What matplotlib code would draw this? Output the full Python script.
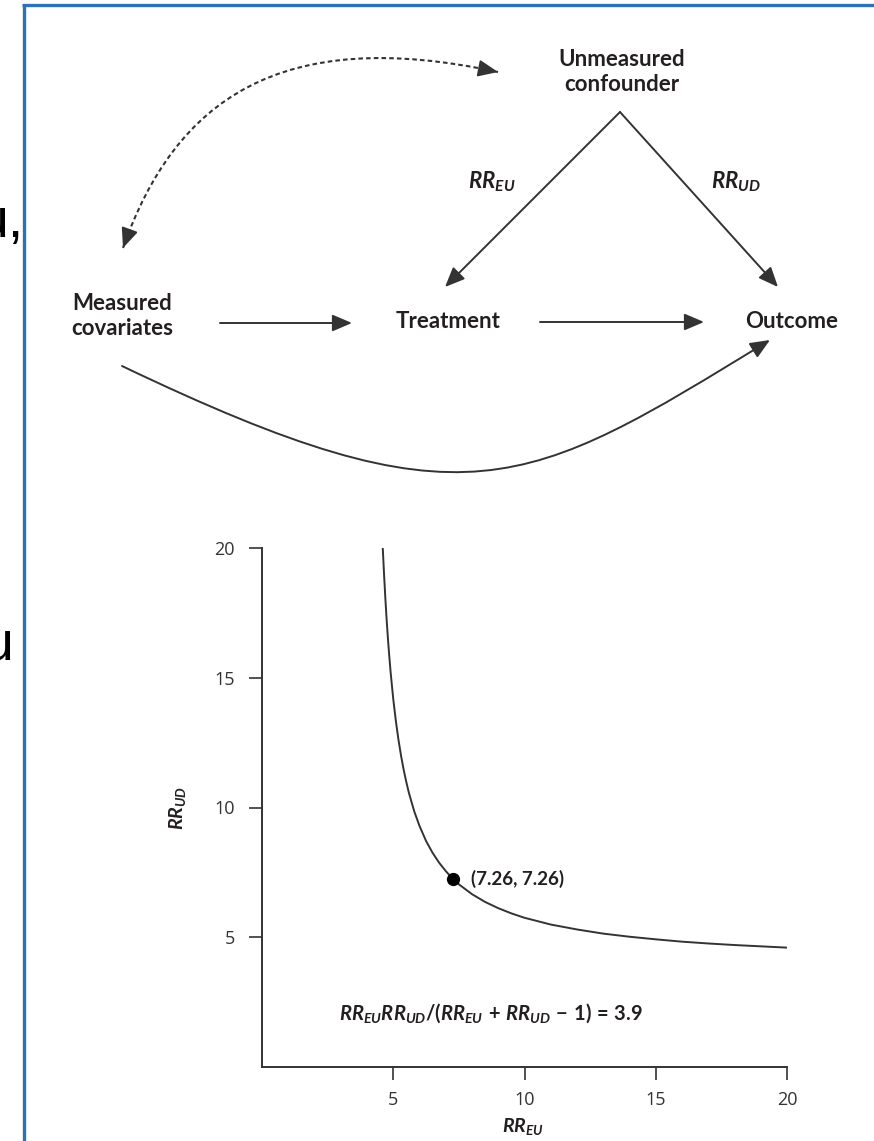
import matplotlib
matplotlib.use('Agg')
import matplotlib.pyplot as plt
from matplotlib.patches import FancyArrowPatch, PathPatch
from matplotlib.path import Path

plt.rcParams['font.family'] = ['Lato', 'DejaVu Sans']
plt.rcParams['mathtext.fontset'] = 'custom'
plt.rcParams['mathtext.it'] = 'Lato:italic:bold'
plt.rcParams['mathtext.rm'] = 'Lato:bold'
plt.rcParams['mathtext.bf'] = 'Lato:bold'

INK = '#231f20'
LINE = '#333333'
FRAME = '#2e72b5'

# ---- 曲线数据 RR_EU vs RR_UD ----
rr_eu = [4.60, 4.65, 4.70, 4.75, 4.80, 4.85, 4.90, 5.00, 5.10, 5.20, 5.30, 5.40,
         5.50, 5.60, 5.80, 6.00, 6.25, 6.50, 6.75, 7.00, 7.26, 7.50, 8.00, 8.50,
         9.00, 9.50, 10.0, 11.0, 12.0, 13.0, 14.0, 15.0, 16.0, 17.0, 18.0, 19.0, 20.0]
rr_ud = [20.0, 18.98, 18.04, 17.21, 16.47, 15.81, 15.21, 14.18, 13.33, 12.60, 11.98, 11.44,
         10.97, 10.55, 9.85, 9.29, 8.71, 8.25, 7.87, 7.55, 7.26, 7.04, 6.66, 6.36,
         6.12, 5.92, 5.75, 5.49, 5.30, 5.14, 5.02, 4.92, 4.83, 4.76, 4.70, 4.65, 4.60]
point = (7.26, 7.26)
ticks = [5, 10, 15, 20]
e_value = 3.9

fig = plt.figure(figsize=(8.74, 11.41), dpi=100)

# ---- 上半部分：因果图 (像素坐标) ----
dax = fig.add_axes([0, 0, 1, 1])
dax.set_xlim(0, 874); dax.set_ylim(1141, 0); dax.axis('off')

# 边框
dax.plot([22, 874], [5, 5], color=FRAME, lw=2.4, solid_capstyle='butt')
dax.plot([23.5, 23.5], [5, 1141], color=FRAME, lw=2.4, solid_capstyle='butt')
dax.text(24, 237, 'u,', fontsize=40, family='Liberation Sans', ha='right', va='baseline', color='black')
dax.text(13, 660, 'u', fontsize=40, family='Liberation Sans', ha='right', va='baseline', color='black')

lab = dict(fontsize=16, fontweight='bold', color=INK, ha='center', va='center', linespacing=1.25)
dax.text(622, 72, 'Unmeasured\nconfounder', **lab)
dax.text(122, 316, 'Measured\ncovariates', **lab)
dax.text(448, 322, 'Treatment', **lab)
dax.text(792, 322, 'Outcome', **lab)
dax.text(492, 182, r'$RR_{EU}$', fontsize=16, color=INK, ha='center', va='center')
dax.text(736, 182, r'$RR_{UD}$', fontsize=16, color=INK, ha='center', va='center')

HEAD = '-|>,head_length=0.75,head_width=0.32'

def arrow(a, b, path=None, style=HEAD):
    kw = dict(arrowstyle=style, mutation_scale=16, color=LINE, lw=1.4, shrinkA=0, shrinkB=0)
    p = FancyArrowPatch(path=path, **kw) if path is not None else FancyArrowPatch(a, b, **kw)
    dax.add_patch(p)

arrow((620, 112), (445, 287))
arrow((620, 112), (778, 287))
arrow((220, 323), (352, 323))
arrow((540, 322), (704, 322))

curve = Path([(122, 366), (465, 530), (525, 490), (770, 340)],
             [Path.MOVETO, Path.CURVE4, Path.CURVE4, Path.CURVE4])
arrow(None, None, path=curve)

# 虚线双向箭头：虚线主体 + 两端实心箭头
dotted = Path([(123, 248), (175, 100), (280, 25), (498, 72)],
              [Path.MOVETO, Path.CURVE4, Path.CURVE4, Path.CURVE4])
dax.add_patch(PathPatch(dotted, fill=False, edgecolor=LINE, lw=1.5, linestyle=(0, (2.2, 1.5))))
arrow((129.5, 230), (123, 248))
arrow((480, 68.5), (498, 72))

# ---- 下半部分：E-value 曲线 ----
ax = fig.add_axes([262/874, 74/1141, 525/874, 519/1141])
ax.plot(rr_eu, rr_ud, color=LINE, lw=1.4)
ax.plot(*point, 'o', color='black', ms=8.5)
ax.annotate(f'({point[0]:.2f}, {point[1]:.2f})', point, xytext=(13, 0), textcoords='offset points',
            fontsize=13.5, fontweight='bold', color=INK, va='center', ha='left')
ax.text(0.436, 0.104, r'$RR_{EU}RR_{UD}/(RR_{EU}\,+\,RR_{UD}\,-\,1)\,=\,$' + f'{e_value}',
        transform=ax.transAxes, fontsize=14.5, fontweight='bold', color=INK, ha='center', va='center')

ax.set_xlim(0, 20); ax.set_ylim(0, 20)
ax.set_xticks(ticks); ax.set_yticks(ticks)
ax.spines[['top', 'right']].set_visible(False)
for s in ('left', 'bottom'):
    ax.spines[s].set_color(LINE); ax.spines[s].set_linewidth(1.4)
ax.tick_params(direction='out', length=9.5, width=1.2, color=LINE, pad=8,
               labelsize=13, labelcolor='#333333')
for t in ax.get_xticklabels() + ax.get_yticklabels():
    t.set_family(['Open Sans', 'DejaVu Sans'])
ax.tick_params(axis='y', pad=10)
ax.text(0.4977, -0.1156, r'$RR_{EU}$', transform=ax.transAxes, fontsize=14,
        color=INK, ha='center', va='center')
ax.text(-0.16, 0.499, r'$RR_{UD}$', transform=ax.transAxes, fontsize=14,
        color=INK, ha='center', va='center', rotation=90)

plt.savefig('out.png', dpi=100)
plt.close()
